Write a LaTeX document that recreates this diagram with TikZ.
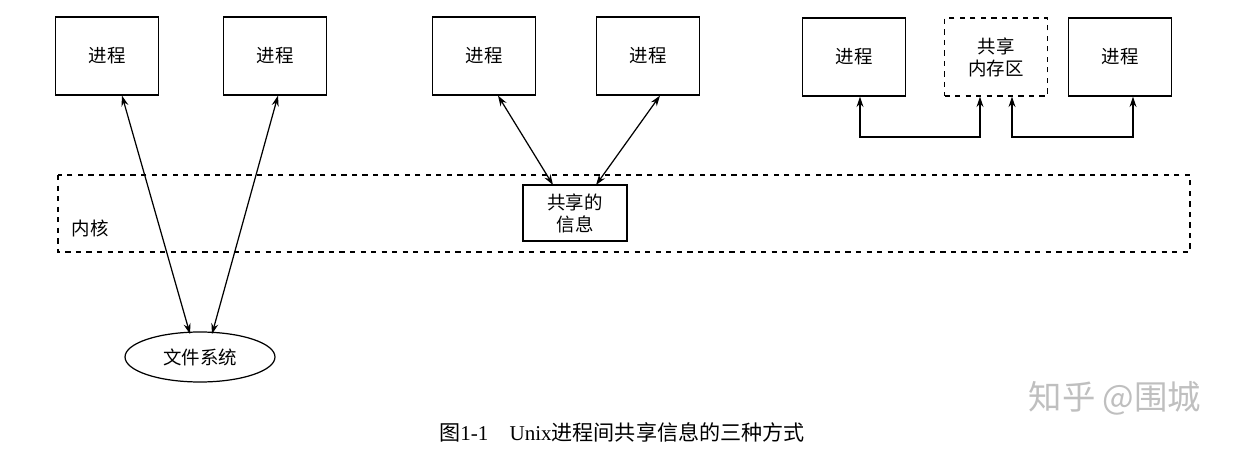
\documentclass[tikz,border=0pt]{standalone}
\usepackage{fontspec}
\setmainfont{Liberation Serif}
\newfontfamily\cjk{Noto Sans CJK SC}
\usetikzlibrary{arrows.meta,shapes.geometric}
\begin{document}
\begin{tikzpicture}[x=0.02cm,y=-0.02cm,
  box/.style={draw,line width=0.7pt,minimum width=2.06cm,minimum height=1.56cm,font=\cjk\fontsize{10.5}{12.5}\selectfont},
  dbox/.style={box,dashed},
  arr/.style={{Stealth[length=6pt,width=4pt]}-{Stealth[length=6pt,width=4pt]},line width=0.7pt}]
\useasboundingbox (0,0) rectangle (1244,449);
\node[box] (p1) at (107,56) {进程};
\node[box] (p2) at (275,56) {进程};
\node[box] (p3) at (484,56) {进程};
\node[box] (p4) at (648,56) {进程};
\node[box] (p5) at (854,57) {进程};
\node[dbox,align=center] (sm) at (996,57) {共享\\内存区};
\node[box] (p6) at (1120,57) {进程};
\draw[dashed,line width=0.7pt] (58,175) rectangle (1190,252);
\node[font=\cjk\fontsize{10.5}{12.5}\selectfont] (kn) at (90,228) {内核};
\node[draw,line width=0.7pt,minimum width=2.08cm,minimum height=1.12cm,align=center,font=\cjk\fontsize{10.5}{12.5}\selectfont] (si) at (575,213) {共享的\\信息};
\node[draw,ellipse,line width=0.7pt,minimum width=3cm,minimum height=1cm,font=\cjk\fontsize{10.5}{12.5}\selectfont] (fs) at (200,357) {文件系统};
\draw[arr] (p1.south -| 122,0) -- (190,334);
\draw[arr] (p2.south -| 278,0) -- (212,334);
\draw[arr] (p3.south -| 498,0) -- (553,185);
\draw[arr] (p4.south -| 660,0) -- (596,185);
\coordinate (a1) at (860,137); \coordinate (a2) at (980,137);
\coordinate (b1) at (1012,137); \coordinate (b2) at (1133,137);
\draw[arr] (p5.south -| a1) -- (a1) -- (a2) -- (sm.south -| a2);
\draw[arr] (sm.south -| b1) -- (b1) -- (b2) -- (p6.south -| b2);
\node[font=\fontsize{12}{14}\selectfont] (cap) at (622,432) {{\cjk 图}1-1\quad Unix{\cjk 进程间共享信息的三种方式}};
\node[text=black!25,font=\cjk\fontsize{19}{21}\selectfont] (wm) at (1115,398) {知乎 @围城};
\end{tikzpicture}
\end{document}
